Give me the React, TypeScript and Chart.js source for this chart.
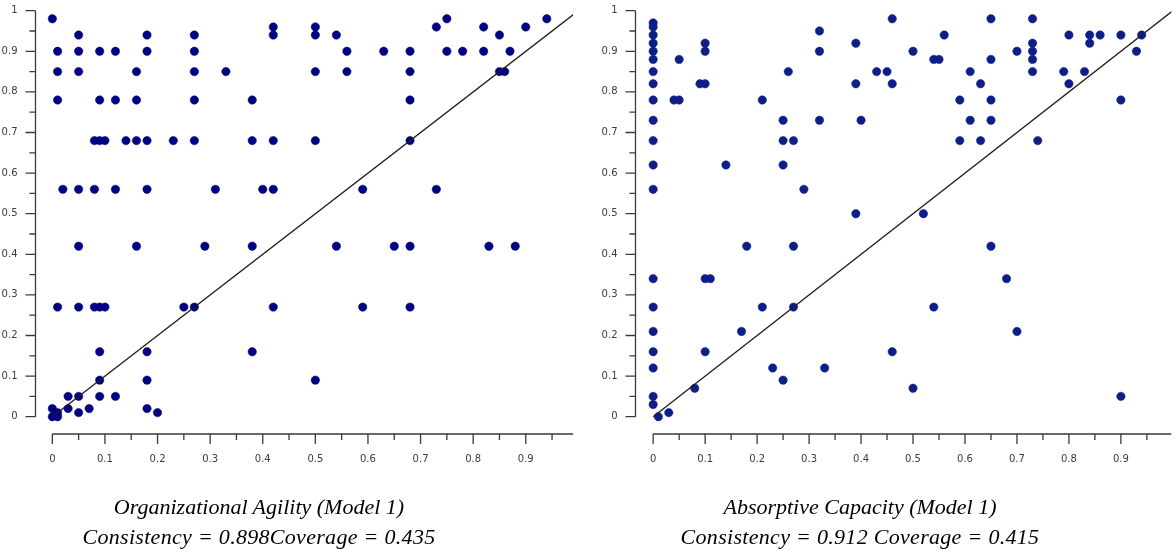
import React, { useEffect, useRef } from 'react';
import { Chart, registerables } from 'chart.js';

Chart.register(...registerables);

// ---- tick values and labels ----
const yTickValues = [0, 0.05, 0.1, 0.15, 0.2, 0.25, 0.3, 0.35, 0.4, 0.45, 0.5, 0.55, 0.6, 0.65, 0.7, 0.75, 0.8, 0.85, 0.9, 0.95, 1];
const yLabelValues = [0, 0.1, 0.2, 0.3, 0.4, 0.5, 0.6, 0.7, 0.8, 0.9, 1];
const yLabelTexts = ['0', '0.1', '0.2', '0.3', '0.4', '0.5', '0.6', '0.7', '0.8', '0.9', '1'];
const xTickValues = [0, 0.05, 0.1, 0.15, 0.2, 0.25, 0.3, 0.35, 0.4, 0.45, 0.5, 0.55, 0.6, 0.65, 0.7, 0.75, 0.8, 0.85, 0.9, 0.95];
const xLabelValues = [0, 0.1, 0.2, 0.3, 0.4, 0.5, 0.6, 0.7, 0.8, 0.9];
const xLabelTexts = ['0', '0.1', '0.2', '0.3', '0.4', '0.5', '0.6', '0.7', '0.8', '0.9'];

// ---- Organizational Agility (Model 1) ----
const agilityX = [
  0, 0.01, 0.01, 0.01, 0.02, 0.05, 0.05, 0.05, 0.05, 0.08,
  0.08, 0.09, 0.09, 0.09, 0.10, 0.12, 0.12, 0.12, 0.14, 0.16,
  0.16, 0.16, 0.18, 0.18, 0.18, 0.18, 0.23, 0.27, 0.27, 0.27,
  0.27, 0.27, 0.31, 0.33, 0.38, 0.38, 0.40, 0.42, 0.42, 0.42,
  0.42, 0.50, 0.50, 0.54, 0.56, 0.63, 0.68, 0.73, 0.75, 0.75,
  0.78, 0.82, 0.82, 0.85, 0.87, 0.90, 0.94, 0.50, 0.56, 0.68,
  0.85, 0.86, 0.68, 0.50, 0.68, 0.59, 0.73, 0.05, 0.16, 0.29,
  0.38, 0.01, 0.05, 0.08, 0.09, 0.10, 0.25, 0.27, 0.42, 0.09,
  0.18, 0.38, 0.09, 0.18, 0.03, 0.05, 0.09, 0.12, 0, 0.03,
  0.07, 0.18, 0.01, 0.05, 0.20, 0, 0.01, 0.54, 0.65, 0.68,
  0.83, 0.88, 0.59, 0.68, 0.50,
];
const agilityY = [
  0.98, 0.90, 0.85, 0.78, 0.56, 0.94, 0.90, 0.85, 0.56, 0.68,
  0.56, 0.90, 0.78, 0.68, 0.68, 0.90, 0.78, 0.56, 0.68, 0.85,
  0.78, 0.68, 0.94, 0.90, 0.68, 0.56, 0.68, 0.94, 0.90, 0.85,
  0.78, 0.68, 0.56, 0.85, 0.78, 0.68, 0.56, 0.96, 0.94, 0.68,
  0.56, 0.96, 0.94, 0.94, 0.90, 0.90, 0.90, 0.96, 0.98, 0.90,
  0.90, 0.96, 0.90, 0.94, 0.90, 0.96, 0.98, 0.85, 0.85, 0.85,
  0.85, 0.85, 0.78, 0.68, 0.68, 0.56, 0.56, 0.42, 0.42, 0.42,
  0.42, 0.27, 0.27, 0.27, 0.27, 0.27, 0.27, 0.27, 0.27, 0.16,
  0.16, 0.16, 0.09, 0.09, 0.05, 0.05, 0.05, 0.05, 0.02, 0.02,
  0.02, 0.02, 0.01, 0.01, 0.01, 0, 0, 0.42, 0.42, 0.42,
  0.42, 0.42, 0.27, 0.27, 0.09,
];

// ---- Absorptive Capacity (Model 1) ----
const absorptiveX = [
  0, 0, 0, 0, 0, 0, 0, 0, 0, 0,
  0, 0, 0, 0, 0, 0, 0, 0, 0, 0,
  0.04, 0.05, 0.05, 0.09, 0.10, 0.10, 0.10, 0.14, 0.21, 0.25,
  0.25, 0.25, 0.26, 0.27, 0.29, 0.32, 0.32, 0.32, 0.39, 0.39,
  0.39, 0.40, 0.43, 0.45, 0.46, 0.46, 0.50, 0.52, 0.54, 0.55,
  0.56, 0.59, 0.59, 0.61, 0.61, 0.63, 0.63, 0.65, 0.65, 0.65,
  0.65, 0.70, 0.73, 0.73, 0.73, 0.73, 0.73, 0.74, 0.79, 0.80,
  0.80, 0.83, 0.84, 0.84, 0.86, 0.90, 0.90, 0.93, 0.94, 0.01,
  0.03, 0.08, 0.10, 0.11, 0.10, 0.17, 0.18, 0.21, 0.23, 0.25,
  0.27, 0.27, 0.33, 0.65, 0.68, 0.54, 0.70, 0.46, 0.50, 0.90,
];
const absorptiveY = [
  0.97, 0.96, 0.94, 0.92, 0.90, 0.88, 0.85, 0.82, 0.78, 0.73,
  0.68, 0.62, 0.56, 0.34, 0.27, 0.21, 0.16, 0.12, 0.05, 0.03,
  0.78, 0.78, 0.88, 0.82, 0.82, 0.90, 0.92, 0.62, 0.78, 0.73,
  0.68, 0.62, 0.85, 0.68, 0.56, 0.95, 0.90, 0.73, 0.92, 0.82,
  0.50, 0.73, 0.85, 0.85, 0.98, 0.82, 0.90, 0.50, 0.88, 0.88,
  0.94, 0.78, 0.68, 0.85, 0.73, 0.82, 0.68, 0.98, 0.88, 0.78,
  0.73, 0.90, 0.98, 0.92, 0.90, 0.88, 0.85, 0.68, 0.85, 0.94,
  0.82, 0.85, 0.94, 0.92, 0.94, 0.94, 0.78, 0.90, 0.94, 0,
  0.01, 0.07, 0.34, 0.34, 0.16, 0.21, 0.42, 0.27, 0.12, 0.09,
  0.42, 0.27, 0.12, 0.42, 0.34, 0.27, 0.21, 0.16, 0.07, 0.05,
];

// ---- reference diagonal (y = x) ----
const diagonalX = [0, 1];
const diagonalY = [0, 1];

const agilityCaption = ['Organizational Agility (Model 1)', 'Consistency = 0.898Coverage = 0.435'];
const absorptiveCaption = ['Absorptive Capacity (Model 1)', 'Consistency = 0.912 Coverage = 0.415'];

const AXIS_COLOR = '#3a3a3a';
const LABEL_COLOR = '#3c3c3c';

const findLabel = (vals: number[], texts: string[], v: number) => {
  const i = vals.findIndex((l) => Math.abs(l - v) < 1e-6);
  return i >= 0 ? texts[i] : '';
};
const isMajor = (vals: number[], v: number) => vals.some((l) => Math.abs(l - v) < 1e-6);

const detachedAxes = {
  id: 'detachedAxes',
  beforeDatasetsDraw(chart: any) {
    const { ctx, chartArea, scales } = chart;
    const x = scales.x;
    const y = scales.y;
    ctx.save();
    ctx.strokeStyle = AXIS_COLOR;
    ctx.lineWidth = 1.3;
    ctx.beginPath();
    const ax = chartArea.left;
    ctx.moveTo(ax, y.getPixelForValue(yTickValues[yTickValues.length - 1]));
    ctx.lineTo(ax, y.getPixelForValue(yTickValues[0]));
    yTickValues.forEach((v) => {
      const py = y.getPixelForValue(v);
      const len = isMajor(yLabelValues, v) ? 10 : 6;
      ctx.moveTo(ax - len, py);
      ctx.lineTo(ax, py);
    });
    const ay = chartArea.bottom;
    ctx.moveTo(x.getPixelForValue(xTickValues[0]), ay);
    ctx.lineTo(chartArea.right, ay);
    xTickValues.forEach((v) => {
      const px = x.getPixelForValue(v);
      const len = isMajor(xLabelValues, v) ? 10 : 6;
      ctx.moveTo(px, ay);
      ctx.lineTo(px, ay + len);
    });
    ctx.stroke();
    ctx.restore();
  },
};

type PanelProps = {
  xs: number[];
  ys: number[];
  color: string;
  xMin: number;
  xMax: number;
  yAxisWidth: number;
  rightPad: number;
  left: number;
};

function ScatterPanel({ xs, ys, color, xMin, xMax, yAxisWidth, rightPad, left }: PanelProps) {
  const ref = useRef<HTMLCanvasElement | null>(null);
  useEffect(() => {
    if (!ref.current) return;
    const points = xs.map((x, i) => ({ x, y: ys[i] }));
    const diag = diagonalX.map((x, i) => ({ x, y: diagonalY[i] }));
    const tickFont = { family: "'DejaVu Sans', sans-serif", size: 10 };
    const chart = new Chart(ref.current, {
      type: 'scatter',
      data: {
        datasets: [
          {
            data: diag,
            showLine: true,
            borderColor: '#1e1e1e',
            borderWidth: 1.3,
            pointRadius: 0,
            fill: false,
          } as any,
          {
            data: points,
            backgroundColor: color,
            borderColor: color,
            borderWidth: 0.5,
            pointRadius: 4.2,
          },
        ],
      },
      plugins: [detachedAxes],
      options: {
        responsive: false,
        animation: false,
        events: [],
        layout: { padding: { top: 10.7, right: rightPad, bottom: 79, left: 0 } },
        plugins: {
          legend: { display: false },
          tooltip: { enabled: false },
          title: { display: false },
        },
        scales: {
          x: {
            type: 'linear',
            min: xMin,
            max: xMax,
            border: { display: false },
            grid: { display: false, drawTicks: true, tickLength: 16 },
            afterBuildTicks: (scale: any) => {
              scale.ticks = xTickValues.map((v) => ({ value: v }));
            },
            afterFit: (scale: any) => {
              scale.height = 40;
            },
            ticks: {
              autoSkip: false,
              maxRotation: 0,
              minRotation: 0,
              padding: 3,
              color: LABEL_COLOR,
              font: tickFont,
              callback: (v: any) => findLabel(xLabelValues, xLabelTexts, Number(v)),
            },
          },
          y: {
            type: 'linear',
            min: -0.0426,
            max: 1,
            border: { display: false },
            grid: { display: false, drawTicks: true, tickLength: 16 },
            afterBuildTicks: (scale: any) => {
              scale.ticks = yTickValues.map((v) => ({ value: v }));
            },
            afterFit: (scale: any) => {
              scale.width = yAxisWidth;
            },
            ticks: {
              autoSkip: false,
              padding: 2,
              color: LABEL_COLOR,
              font: tickFont,
              callback: (v: any) => findLabel(yLabelValues, yLabelTexts, Number(v)),
            },
          },
        },
      } as any,
    });
    return () => chart.destroy();
  }, []);
  return (
    <canvas
      ref={ref}
      width={588}
      height={553}
      style={{ position: 'absolute', left, top: 0, width: 588, height: 553 }}
    />
  );
}

function Caption({ lines, center }: { lines: string[]; center: number }) {
  return (
    <div
      style={{
        position: 'absolute',
        left: center - 260,
        width: 520,
        top: 492,
        textAlign: 'center',
        fontFamily: "'Liberation Serif', 'Times New Roman', serif",
        fontStyle: 'italic',
        fontSize: 22,
        lineHeight: '30px',
        color: '#000',
        whiteSpace: 'nowrap',
      }}
    >
      {lines.map((l, i) => (
        <div key={i} style={{ letterSpacing: i === 1 ? '0.3px' : '0px' }}>{l}</div>
      ))}
    </div>
  );
}

export default function App() {
  return (
    <div
      style={{
        position: 'absolute',
        left: 0,
        top: 0,
        width: 1176,
        height: 553,
        background: '#fff',
        overflow: 'hidden',
      }}
    >
      <ScatterPanel xs={agilityX} ys={agilityY} color="#000080" xMin={-0.032} xMax={0.99} yAxisWidth={35.5} rightPad={14.9} left={0} />
      <ScatterPanel xs={absorptiveX} ys={absorptiveY} color="#0d1e87" xMin={-0.034} xMax={0.997} yAxisWidth={47.5} rightPad={0} left={588} />
      <Caption lines={agilityCaption} center={259} />
      <Caption lines={absorptiveCaption} center={860} />
    </div>
  );
}
